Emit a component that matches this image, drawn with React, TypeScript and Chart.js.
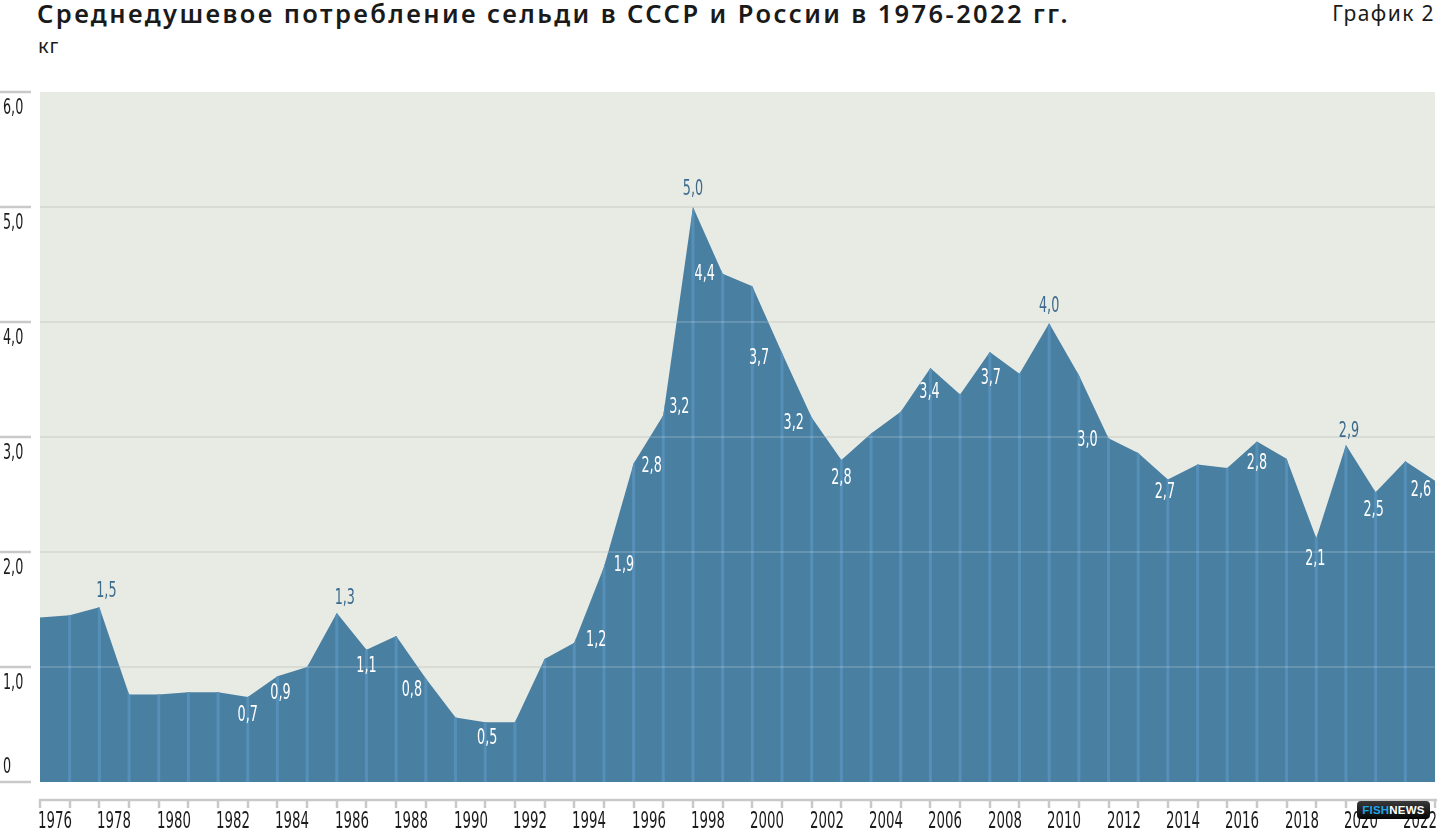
import { useEffect, useRef } from "react";
import { Chart, registerables } from "chart.js";

Chart.register(...registerables);

// годы (последняя вершина графика уходит к правому краю поля)
const years = [
  1976, 1977, 1978, 1979, 1980, 1981, 1982, 1983, 1984, 1985,
  1986, 1987, 1988, 1989, 1990, 1991, 1992, 1993, 1994, 1995,
  1996, 1997, 1998, 1999, 2000, 2001, 2002, 2003, 2004, 2005,
  2006, 2007, 2008, 2009, 2010, 2011, 2012, 2013, 2014, 2015,
  2016, 2017, 2018, 2019, 2020, 2021, 2022, 2023,
];

// кг на душу населения
const consumption = [
  1.43, 1.45, 1.52, 0.76, 0.76, 0.78, 0.78, 0.74, 0.92, 1.0,
  1.47, 1.15, 1.27, 0.9, 0.56, 0.52, 0.52, 1.07, 1.21, 1.87,
  2.77, 3.19, 5.0, 4.42, 4.31, 3.73, 3.17, 2.8, 3.03, 3.22,
  3.6, 3.37, 3.74, 3.55, 3.99, 3.54, 2.99, 2.86, 2.63, 2.76,
  2.73, 2.96, 2.81, 2.12, 2.93, 2.52, 2.79, 2.62,
];

// подписи значений (null — без подписи)
const valueLabels: (string | null)[] = [
  null, null, "1,5", null, null, null, null, "0,7", "0,9", null,
  "1,3", "1,1", null, "0,8", null, "0,5", null, null, "1,2", "1,9",
  "2,8", "3,2", "5,0", "4,4", null, "3,7", "3,2", "2,8", null, null,
  "3,4", null, "3,7", null, "4,0", null, "3,0", null, "2,7", null,
  null, "2,8", null, "2,1", "2,9", "2,5", null, "2,6",
];

const yearTickLabels = [
  "1976", "1978", "1980", "1982", "1984", "1986", "1988", "1990", "1992", "1994", "1996", "1998",
  "2000", "2002", "2004", "2006", "2008", "2010", "2012", "2014", "2016", "2018", "2020", "2022",
];

const valueTicks = [0, 1, 2, 3, 4, 5, 6];
const valueTickLabels = ["0", "1,0", "2,0", "3,0", "4,0", "5,0", "6,0"];

// смещения подписей от вершины: [dx, dy, внутри области]
const labelPlacement: Record<number, [number, number, boolean]> = {
  1978: [7, -16, false],
  1983: [0, 18, true],
  1984: [3, 17, true],
  1986: [8, -15, false],
  1987: [0, 17, true],
  1989: [-14, 12, true],
  1991: [2, 16, true],
  1994: [22, -3, true],
  1995: [20, -2, true],
  1996: [18, 3, true],
  1997: [16, -8, true],
  1998: [0, -18, false],
  1999: [-18, 1, true],
  2001: [-23, 5, true],
  2002: [-18, 6, true],
  2003: [0, 18, true],
  2006: [-1, 24, true],
  2008: [1, 26, true],
  2010: [0, -17, false],
  2012: [-21, 2, true],
  2014: [-3, 13, true],
  2017: [0, 22, true],
  2019: [-1, 21, true],
  2020: [3, -14, false],
  2021: [-2, 18, true],
  2023: [-14, 10, true],
};

const AREA = "#497fa1";
const STRIPE = "#5690b9";
const PLOT_BG = "#e8eae4";
const AXIS_GREY = "#c9c9c9";
const NARROW = "'Liberation Sans Narrow', 'DejaVu Sans Condensed', 'Roboto', sans-serif";

// узкий шрифт: сжимаем по горизонтали так, чтобы «1976» занимало ~30px при 21px
function narrowText(ctx: CanvasRenderingContext2D, text: string, x: number, y: number, size: number, align: "left" | "center") {
  ctx.save();
  ctx.font = `${size}px ${NARROW}`;
  const sx = Math.min(1, (31 * (size / 21)) / ctx.measureText("1976").width);
  ctx.translate(x, y);
  ctx.scale(sx, 1);
  ctx.textAlign = align;
  ctx.textBaseline = "middle";
  ctx.fillText(text, 0, 0);
  ctx.restore();
}

const decorPlugin = {
  id: "decor",
  beforeDatasetsDraw(chart: Chart) {
    const { ctx, chartArea, scales } = chart;
    const ys = scales.y;
    ctx.save();
    ctx.fillStyle = PLOT_BG;
    ctx.fillRect(chartArea.left, chartArea.top, chartArea.right - chartArea.left, chartArea.bottom - chartArea.top);
    ctx.strokeStyle = "#d9dcd4";
    ctx.lineWidth = 2;
    valueTicks.forEach((v) => {
      if (v === 0 || v === 6) return;
      const py = Math.round(ys.getPixelForValue(v));
      ctx.beginPath();
      ctx.moveTo(chartArea.left, py);
      ctx.lineTo(chartArea.right, py);
      ctx.stroke();
    });
    ctx.restore();
  },
  afterDatasetsDraw(chart: Chart) {
    const { ctx, chartArea, scales } = chart;
    const xs = scales.x;
    const ys = scales.y;
    const pts = chart.getDatasetMeta(0).data;
    const base = ys.getPixelForValue(0);

    // светлые полосы и линии сетки только внутри области
    ctx.save();
    ctx.beginPath();
    ctx.moveTo(pts[0].x, base);
    pts.forEach((p) => ctx.lineTo(p.x, p.y));
    ctx.lineTo(pts[pts.length - 1].x, base);
    ctx.closePath();
    ctx.clip();
    ctx.fillStyle = STRIPE;
    years.forEach((yr, i) => {
      if (i === 0 || i === years.length - 1) return;
      const px = xs.getPixelForValue(yr);
      ctx.fillRect(px - 1.5, chartArea.top, 3, chartArea.bottom - chartArea.top);
    });
    ctx.strokeStyle = "rgba(255,255,255,0.16)";
    ctx.lineWidth = 2;
    valueTicks.forEach((v) => {
      if (v === 0) return;
      const py = Math.round(ys.getPixelForValue(v));
      ctx.beginPath();
      ctx.moveTo(chartArea.left, py);
      ctx.lineTo(chartArea.right, py);
      ctx.stroke();
    });
    ctx.restore();

    // ось значений
    ctx.save();
    ctx.strokeStyle = AXIS_GREY;
    ctx.lineWidth = 2.5;
    ctx.fillStyle = "#1c1c1c";
    valueTicks.forEach((v, i) => {
      const py = Math.round(ys.getPixelForValue(v));
      ctx.beginPath();
      ctx.moveTo(0, py);
      ctx.lineTo(31, py);
      ctx.stroke();
      narrowText(ctx, valueTickLabels[i], 3, v === 0 ? py - 15 : py + 16, 22, "left");
    });

    // ось годов
    const axisY = chartArea.bottom + 18;
    const x0 = xs.getPixelForValue(years[0]);
    ctx.beginPath();
    ctx.moveTo(x0 - 1, axisY);
    ctx.lineTo(chartArea.right + 2, axisY);
    ctx.stroke();
    years.forEach((yr) => {
      const px = Math.round(xs.getPixelForValue(yr));
      ctx.beginPath();
      ctx.moveTo(px, axisY);
      ctx.lineTo(px, axisY + 8);
      ctx.stroke();
      const lbl = yearTickLabels.indexOf(String(yr));
      if (lbl >= 0) narrowText(ctx, yearTickLabels[lbl], px - 2, axisY + 22, 23, "left");
    });

    // подписи значений
    years.forEach((yr, i) => {
      const text = valueLabels[i];
      const place = labelPlacement[yr];
      if (!text || !place) return;
      const p = pts[i];
      ctx.fillStyle = place[2] ? "#ffffff" : "#3b6b8d";
      narrowText(ctx, text, p.x + place[0], p.y + place[1], 22, "center");
    });
    ctx.restore();
  },
};

export default function App() {
  const canvasRef = useRef<HTMLCanvasElement>(null);
  const chartRef = useRef<Chart | null>(null);

  useEffect(() => {
    if (!canvasRef.current) return;
    if (chartRef.current) chartRef.current.destroy();
    const ctx = canvasRef.current.getContext("2d");
    if (!ctx) return;
    chartRef.current = new Chart(ctx, {
      type: "line",
      data: {
        datasets: [
          {
            data: years.map((yr, i) => ({ x: yr, y: consumption[i] })),
            backgroundColor: AREA,
            borderWidth: 0,
            pointRadius: 0,
            tension: 0,
            fill: "origin",
          },
        ],
      },
      options: {
        animation: false,
        responsive: true,
        maintainAspectRatio: false,
        layout: { padding: { left: 40, right: 5, top: 92, bottom: 48 } },
        plugins: { legend: { display: false }, tooltip: { enabled: false } },
        scales: {
          x: { type: "linear", display: false, min: years[0], max: years[years.length - 1] },
          y: { type: "linear", display: false, min: 0, max: 6 },
        },
      },
      plugins: [decorPlugin],
    });
    return () => {
      if (chartRef.current) {
        chartRef.current.destroy();
        chartRef.current = null;
      }
    };
  }, []);

  return (
    <div style={{ position: "absolute", left: 0, top: 0, width: 1440, height: 830, background: "#fff", overflow: "hidden" }}>
      <div
        style={{
          position: "absolute", left: 37, top: -4, fontFamily: "'Noto Sans', sans-serif", fontWeight: 600,
          fontSize: 25.5, letterSpacing: 2.4, color: "#1a1a1a", whiteSpace: "nowrap",
        }}
      >
        Среднедушевое потребление сельди в СССР и России в 1976-2022 гг.
      </div>
      <div style={{ position: "absolute", left: 38, top: 32, fontFamily: "'Noto Sans', sans-serif", fontSize: 20, letterSpacing: 1, color: "#1a1a1a" }}>
        кг
      </div>
      <div
        style={{
          position: "absolute", right: 5, top: -1, fontFamily: "'Noto Sans', sans-serif", fontSize: 21,
          letterSpacing: 1.4, color: "#1a1a1a", whiteSpace: "nowrap",
        }}
      >
        График 2
      </div>
      <div style={{ position: "absolute", left: 0, top: 0, width: 1440, height: 830 }}>
        <canvas ref={canvasRef}></canvas>
      </div>
      <div
        style={{
          position: "absolute", left: 1357, top: 801, width: 73, height: 18, borderRadius: 4,
          background: "linear-gradient(#3a3a3a, #050505)", fontFamily: "'Liberation Sans', Arial, sans-serif",
          fontWeight: 700, fontSize: 11.5, lineHeight: "18px", textAlign: "center", letterSpacing: 0.2,
        }}
      >
        <span style={{ color: "#20a4e6" }}>FISH</span>
        <span style={{ color: "#ffffff" }}>NEWS</span>
      </div>
    </div>
  );
}
